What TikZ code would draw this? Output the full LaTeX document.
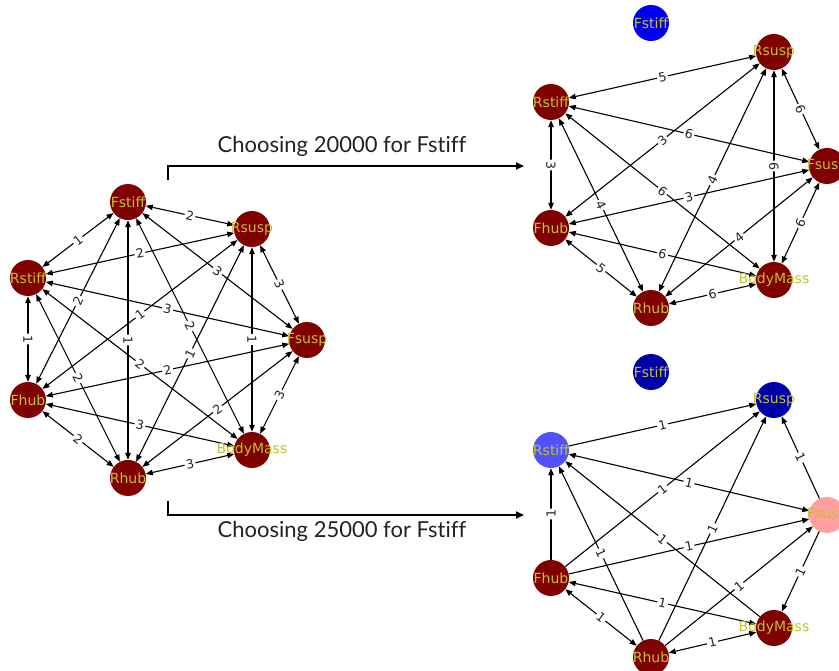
\documentclass[tikz,border=0pt]{standalone}
\usepackage{fontspec}
\setmainfont{DejaVu Sans}
\newfontfamily\titlefont[Ligatures=NoCommon]{Lato}
\usetikzlibrary{arrows.meta}
\definecolor{nred}{HTML}{800000}
\definecolor{nblue}{HTML}{0000EE}
\definecolor{ndblue}{HTML}{0000A8}
\definecolor{nmblue}{HTML}{5050FF}
\definecolor{npink}{HTML}{FF9F9F}
\definecolor{ntxt}{HTML}{C2C22C}
\definecolor{ttxt}{HTML}{222222}
\begin{document}
\begin{tikzpicture}[x=1pt,y=-1pt,
  gn/.style={circle,minimum size=36pt,inner sep=0pt,draw=none},
  ntext/.style={text=ntxt,font=\fontsize{14}{16}\selectfont,inner sep=0pt},
  edge/.style={line width=1.1pt,draw=black,>={Triangle[length=7pt,width=5.5pt]}},
  elabel/.style={midway,sloped,fill=white,text=ttxt,inner sep=1.5pt,rounded corners=2pt,font=\fontsize{12.5}{14}\selectfont},
  bigarrow/.style={line width=1.8pt,draw=black,-{Triangle[length=8pt,width=7pt]}},
  title/.style={font=\titlefont\fontsize{22}{25}\selectfont,text=ttxt,inner sep=0pt}]
\useasboundingbox (0,0) rectangle (839,671);

% ---------- left graph ----------
\foreach \n/\x/\y in {Fstiff/128/202,Rsusp/252/229,Rstiff/28/278,Fsusp/307/340,Fhub/28/400,BodyMass/252/450,Rhub/128/478}
  \node[gn,fill=nred] (L\n) at (\x,\y) {};
\foreach \a/\b/\l in {Fstiff/Rsusp/2,Fstiff/Rstiff/1,Fstiff/Fsusp/3,Fstiff/Fhub/2,Fstiff/Rhub/1,Fstiff/BodyMass/2,Rsusp/Rstiff/2,Rsusp/Fsusp/3,Rsusp/Fhub/1,Rsusp/BodyMass/1,Rsusp/Rhub/1,Rstiff/Fsusp/3,Rstiff/Fhub/1,Rstiff/BodyMass/2,Rstiff/Rhub/2,Fsusp/Fhub/2,Fsusp/BodyMass/3,Fsusp/Rhub/2,Fhub/BodyMass/3,Fhub/Rhub/2,BodyMass/Rhub/3}
  \draw[edge,<->] (L\a) -- (L\b);
\foreach \a/\b/\l in {Fstiff/Rsusp/2,Fstiff/Rstiff/1,Fstiff/Fsusp/3,Fstiff/Fhub/2,Fstiff/Rhub/1,Fstiff/BodyMass/2,Rsusp/Rstiff/2,Rsusp/Fsusp/3,Rsusp/Fhub/1,Rsusp/BodyMass/1,Rsusp/Rhub/1,Rstiff/Fsusp/3,Rstiff/Fhub/1,Rstiff/BodyMass/2,Rstiff/Rhub/2,Fsusp/Fhub/2,Fsusp/BodyMass/3,Fsusp/Rhub/2,Fhub/BodyMass/3,Fhub/Rhub/2,BodyMass/Rhub/3}
  \path (L\a) -- node[elabel] (L\a\b l) {\l} (L\b);
\foreach \n in {Fstiff,Rsusp,Rstiff,Fsusp,Fhub,BodyMass,Rhub}
  \node[ntext] (L\n t) at (L\n) {\n};

% ---------- top right graph ----------
\node[gn,fill=nblue] (TFstiff) at (651,23) {};
\foreach \n/\x/\y in {Rsusp/774/52,Rstiff/551/102,Fsusp/827/166,Fhub/551/228,BodyMass/774/280,Rhub/651/308}
  \node[gn,fill=nred] (T\n) at (\x,\y) {};
\foreach \a/\b/\l in {Rsusp/Rstiff/5,Rsusp/Fsusp/6,Rsusp/Fhub/3,Rsusp/BodyMass/6,Rsusp/Rhub/4,Rstiff/Fsusp/6,Rstiff/Fhub/3,Rstiff/BodyMass/6,Rstiff/Rhub/4,Fsusp/Fhub/3,Fsusp/BodyMass/6,Fsusp/Rhub/4,Fhub/BodyMass/6,Fhub/Rhub/5,BodyMass/Rhub/6}
  \draw[edge,<->] (T\a) -- (T\b);
\foreach \a/\b/\l in {Rsusp/Rstiff/5,Rsusp/Fsusp/6,Rsusp/Fhub/3,Rsusp/BodyMass/6,Rsusp/Rhub/4,Rstiff/Fsusp/6,Rstiff/Fhub/3,Rstiff/BodyMass/6,Rstiff/Rhub/4,Fsusp/Fhub/3,Fsusp/BodyMass/6,Fsusp/Rhub/4,Fhub/BodyMass/6,Fhub/Rhub/5,BodyMass/Rhub/6}
  \path (T\a) -- node[elabel] (T\a\b l) {\l} (T\b);
\foreach \n in {Fstiff,Rsusp,Rstiff,Fsusp,Fhub,BodyMass,Rhub}
  \node[ntext] (T\n t) at (T\n) {\n};

% ---------- bottom right graph ----------
\node[gn,fill=ndblue] (BFstiff) at (651,372) {};
\node[gn,fill=ndblue] (BRsusp) at (774,400) {};
\node[gn,fill=nmblue] (BRstiff) at (551,450) {};
\node[gn,fill=npink] (BFsusp) at (827,515) {};
\node[gn,fill=nred] (BFhub) at (551,578) {};
\node[gn,fill=nred] (BBodyMass) at (774,628) {};
\node[gn,fill=nred] (BRhub) at (651,657) {};
\foreach \a/\b/\s in {Rstiff/Rsusp/->,Fsusp/Rsusp/->,Fhub/Rsusp/->,Rhub/Rsusp/->,Rstiff/Fsusp/<->,Fhub/Rstiff/->,Rhub/Rstiff/->,BodyMass/Rstiff/->,Fhub/Fsusp/->,Rhub/Fsusp/->,Fsusp/BodyMass/->,Fhub/BodyMass/<->,Fhub/Rhub/<->,BodyMass/Rhub/<->}
  \draw[edge,\s] (B\a) -- (B\b);
\foreach \a/\b in {Rstiff/Rsusp,Fsusp/Rsusp,Fhub/Rsusp,Rhub/Rsusp,Rstiff/Fsusp,Fhub/Rstiff,Rhub/Rstiff,BodyMass/Rstiff,Fhub/Fsusp,Rhub/Fsusp,Fsusp/BodyMass,Fhub/BodyMass,Fhub/Rhub,BodyMass/Rhub}
  \path (B\a) -- node[elabel] (B\a\b l) {1} (B\b);
\foreach \n in {Fstiff,Rsusp,Rstiff,Fsusp,Fhub,BodyMass,Rhub}
  \node[ntext] (B\n t) at (B\n) {\n};

% ---------- connectors ----------
\coordinate (a1s) at (168,180);
\coordinate (a1e) at (524,166);
\draw[bigarrow] (a1s) |- (a1e);
\node[title] (t1) at (342,146) {Choosing 20000 for Fstiff};
\coordinate (a2s) at (168,501);
\coordinate (a2e) at (524,515);
\draw[bigarrow] (a2s) |- (a2e);
\node[title] (t2) at (342,531) {Choosing 25000 for Fstiff};
\end{tikzpicture}
\end{document}
